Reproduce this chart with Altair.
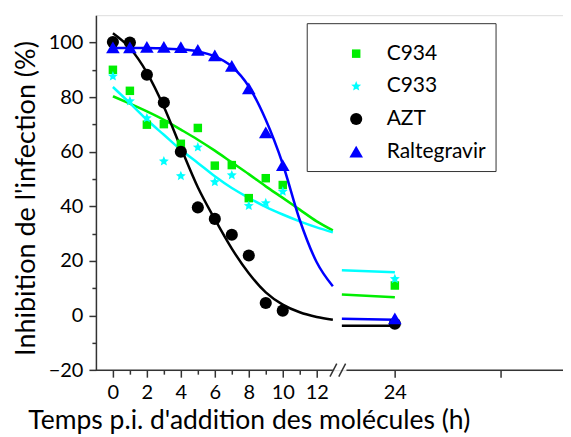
import altair as alt
import pandas as pd
import json

# ---------------- data ----------------
series_names = ["C934", "C933", "AZT", "Raltegravir"]
series_colors = ["#00EE00", "#00FFFF", "#000000", "#0000FF"]

times = [0, 1, 2, 3, 4, 5, 6, 7, 8, 9, 10, 24]
c934 = [90.0, 82.3, 69.9, 70.1, 62.9, 68.7, 54.9, 55.1, 43.0, 50.3, 47.8, 11.0]
c933 = [87.6, 78.5, 72.3, 56.5, 51.1, 61.6, 48.9, 51.4, 40.2, 41.2, 45.4, 13.4]
azt = [100.2, 100.0, 88.2, 78.0, 60.0, 39.6, 35.4, 29.6, 22.0, 4.6, 1.8, -3.0]
ralt = [98.2, 98.2, 98.4, 98.4, 98.3, 97.3, 95.3, 91.4, 83.2, 67.1, 55.1, -1.0]

# fitted curves
curve_t = [0, 1, 2, 3, 4, 5, 6, 7, 8, 9, 10, 11, 12, 12.95]
c934_fit = [80.3, 77.6, 74.8, 71.7, 68.1, 64.4, 60.4, 56.1, 51.8, 47.3, 43.1, 38.8, 34.5, 31.2]
c933_fit = [83.7, 77.8, 71.7, 66.2, 60.7, 55.9, 51.0, 46.7, 43.1, 39.8, 37.0, 34.5, 32.3, 30.5]
azt_fit = [103.4, 98.0, 89.0, 76.5, 61.5, 47.0, 35.3, 24.5, 15.5, 8.5, 4.0, 1.2, -0.5, -1.5]
ralt_fit = [98.0, 98.0, 98.0, 97.8, 97.5, 96.7, 94.9, 91.2, 83.9, 71.7, 55.5, 35.0, 19.5, 10.7]

tail_t = [18, 24]
c934_tail = [7.7, 6.7]
c933_tail = [16.6, 15.9]
azt_tail = [-3.7, -3.7]
ralt_tail = [-1.2, -1.5]

# axis ticks (hours)
tick_hours = [0, 1, 2, 3, 4, 5, 6, 7, 8, 9, 10, 11, 12, 24, 36]
y_ticks = list(range(-20, 101, 10))

# broken axis geometry (positional units of the compressed x scale)
P24 = 16.6      # where 24 h sits
RIGHT_K = 0.52  # compression of the right-hand segment
axis_segments_start = [-1.0, 13.75]
axis_segments_end = [12.95, 26.5]
break_marks = [12.98, 13.5]


def pos(t):
    return t if t <= 13.5 else P24 + (t - 24) * RIGHT_K


pos_expr = f"datum.t > 13.5 ? {P24} + (datum.t - 24) * {RIGHT_K} : datum.t"
color_expr = json.dumps(dict(zip(series_names, series_colors))) + "[datum.series]"

# ---------------- tables ----------------
pts_rows = []
for name, vals in zip(series_names, [c934, c933, azt, ralt]):
    for t, v in zip(times, vals):
        pts_rows.append({"series": name, "t": t, "value": v})
pts = pd.DataFrame(pts_rows)

curve_rows = []
for name, vals, tail in zip(series_names, [c934_fit, c933_fit, azt_fit, ralt_fit],
                            [c934_tail, c933_tail, azt_tail, ralt_tail]):
    for t, v in zip(curve_t, vals):
        curve_rows.append({"series": name, "t": t, "value": v, "seg": "a"})
    for t, v in zip(tail_t, tail):
        curve_rows.append({"series": name, "t": t, "value": v, "seg": "b"})
curves = pd.DataFrame(curve_rows)

axis_df = pd.DataFrame({"x0": axis_segments_start, "x1": axis_segments_end,
                        "y0": [-20, -20], "y1": [-20, -20]})
slash_df = pd.DataFrame({"x0": [b - 0.2 for b in break_marks],
                         "x1": [b + 0.2 for b in break_marks],
                         "y0": [-22.4, -22.4], "y1": [-17.6, -17.6]})

x_tick_vals = [pos(t) for t in tick_hours]

FONT = "Lato"
AX = "#333333"

x_scale = alt.Scale(domain=[-1, 26.5], nice=False, zero=False)
y_scale = alt.Scale(domain=[-20, 110], nice=False, zero=False)

x_axis = alt.Axis(
    values=x_tick_vals,
    labelExpr=f"datum.value > 13.5 ? (abs(datum.value - {P24}) < 0.01 ? '24' : '') : (datum.value % 2 == 0 ? datum.label : '')",
    tickSize={"condition": {"test": "datum.value < 13.5 && datum.value % 2 == 1", "value": 4}, "value": 7},
    domain=False, grid=False, tickColor=AX, tickWidth=1.5,
    labelFont=FONT, labelFontSize=20, labelColor="black", labelPadding=5,
    labelOverlap=False, labelFlush=False,
    title="Temps p.i. d'addition des molécules (h)",
    titleFont=FONT, titleFontSize=26.5, titleFontWeight="normal", titleColor="black",
    titleX=153, titleY=58, titleBaseline="alphabetic", titleAlign="center", titleAnchor="start",
)
y_axis = alt.Axis(
    values=y_ticks,
    labelExpr="datum.value % 20 == 0 ? datum.label : ''",
    tickSize={"condition": {"test": "datum.value % 20 != 0", "value": 4}, "value": 7},
    domain=True, domainColor=AX, domainWidth=1.5, grid=False, tickColor=AX, tickWidth=1.5,
    labelFont=FONT, labelFontSize=20, labelColor="black", labelPadding=6,
    labelOverlap=False, labelFlush=False,
    title="Inhibition de l'infection (%)",
    titleFont=FONT, titleFontSize=27, titleFontWeight="normal", titleColor="black",
    titleX=-61, titleY=183, titleBaseline="alphabetic", titleAlign="center", titleAngle=-90,
    titleAnchor="start",
)

star = ("M0,-1L0.265,-0.364L0.951,-0.309L0.428,0.139L0.588,0.809L0,0.45"
        "L-0.588,0.809L-0.428,0.139L-0.951,-0.309L-0.265,-0.364Z")

legend = alt.Legend(
    orient="none", legendX=211, legendY=8, title=" ", titleFontSize=1, titlePadding=10,
    labelFont=FONT, labelFontSize=21, labelFontWeight="normal", labelColor="black", padding=9,
    symbolOffset=30, labelOffset=20, rowPadding=10.7,
    strokeColor=AX, symbolStrokeWidth=0, symbolOpacity=1,
)

color_scale = alt.Scale(domain=series_names, range=series_colors)

X = lambda f: alt.X(f, scale=x_scale, axis=x_axis)
Y = lambda f: alt.Y(f, scale=y_scale, axis=y_axis)

lines = alt.Chart(curves).transform_calculate(p=pos_expr, col=color_expr).mark_line(
    strokeWidth=2.5, interpolate="monotone").encode(
    x=X("p:Q"), y=Y("value:Q"),
    stroke=alt.Stroke("col:N", scale=None),
    detail="series:N",
    order="t:Q",
)
lines_a = lines.transform_filter("datum.seg == 'a'")
lines_b = lines.transform_filter("datum.seg == 'b'")

points = alt.Chart(pts).transform_calculate(p=pos_expr).mark_point(
    filled=True, opacity=1, strokeWidth=0).encode(
    x=X("p:Q"), y=Y("value:Q"),
    color=alt.Color("series:N", scale=color_scale, legend=legend, sort=series_names),
    shape=alt.Shape("series:N", scale=alt.Scale(domain=series_names,
                    range=["square", star, "circle", "triangle-up"]), legend=legend, sort=series_names),
    size=alt.Size("series:N", scale=alt.Scale(domain=series_names, range=[72, 185, 70, 100]),
                  legend=legend, sort=series_names),
)

axis_line = alt.Chart(axis_df).mark_rule(color=AX, strokeWidth=1.5).encode(
    x=X("x0:Q"), x2="x1:Q", y=Y("y0:Q"), y2="y1:Q")
slashes = alt.Chart(slash_df).mark_rule(color=AX, strokeWidth=1.5).encode(
    x=X("x0:Q"), x2="x1:Q", y=Y("y0:Q"), y2="y1:Q")

chart = alt.layer(axis_line, slashes, lines_a, lines_b, points).properties(
    width=467.5, height=355.3,
    autosize=alt.AutoSizeParams(type="none"),
    padding={"left": 88, "top": 7, "right": 0, "bottom": 66},
).configure_view(stroke=None).configure(font=FONT)

chart.save("out.html", embed_options={"renderer": "svg", "actions": False})
